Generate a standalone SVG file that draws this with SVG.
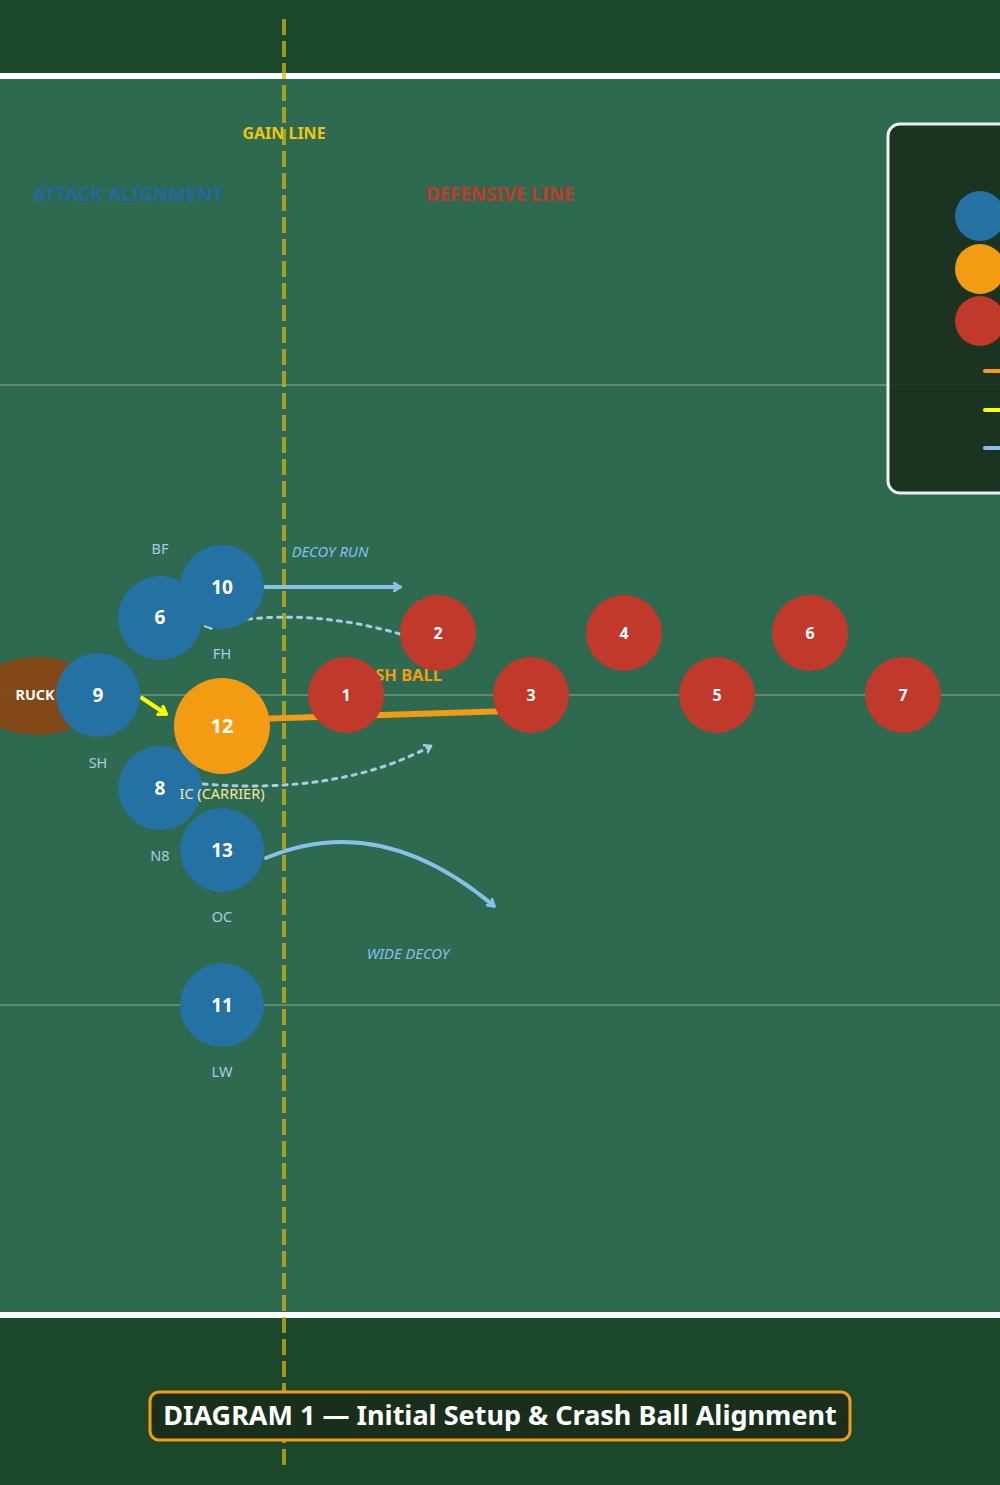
<svg xmlns="http://www.w3.org/2000/svg" width="1000" height="1485" viewBox="0 0 1000 1485">
<style>
text{font-family:"Noto Sans","Open Sans","DejaVu Sans",sans-serif}
.att{fill:#2471a3}
.def{fill:#c0392b}
.num{fill:#fff;font-weight:bold;text-anchor:middle}
.pos{fill:#a9cce3;font-size:14.5px;text-anchor:middle}
.yard{stroke:#fff;stroke-opacity:0.3;stroke-width:1.5}
.dot{fill:none;stroke:#a9cce3;stroke-width:3;stroke-dasharray:4 6;stroke-linecap:round}
.run{fill:none;stroke:#85c1e9;stroke-width:4;stroke-linecap:round}
.lbl{fill:#85c1e9;font-size:14.8px;font-style:italic;text-anchor:middle}
</style>
<defs>
<marker id="ab" markerWidth="10" markerHeight="10" refX="7" refY="5" orient="auto" markerUnits="userSpaceOnUse">
<path d="M1,1 L7,5 L1,9" fill="none" stroke="#85c1e9" stroke-width="3" stroke-linecap="round" stroke-linejoin="round"/>
</marker>
<marker id="ad" markerWidth="10" markerHeight="10" refX="7" refY="5" orient="auto" markerUnits="userSpaceOnUse">
<path d="M1,1 L7,5 L1,9" fill="none" stroke="#a9cce3" stroke-width="2.5" stroke-linecap="round" stroke-linejoin="round"/>
</marker>
<marker id="ay" markerWidth="12" markerHeight="12" refX="8" refY="6" orient="auto" markerUnits="userSpaceOnUse">
<path d="M1,1 L8,6 L1,11" fill="none" stroke="#ffff00" stroke-width="3.5" stroke-linecap="round" stroke-linejoin="round"/>
</marker>
<marker id="ao" markerWidth="12" markerHeight="12" refX="8" refY="6" orient="auto" markerUnits="userSpaceOnUse">
<path d="M1,1 L8,6 L1,11" fill="none" stroke="#f39c12" stroke-width="4"/>
</marker>
</defs>
<rect x="0" y="0" width="1000" height="1485" fill="#1b472b"/>
<rect x="0" y="76" width="1000" height="1239" fill="#2e6a4f"/>
<line x1="0" y1="76" x2="1000" y2="76" stroke="#fff" stroke-width="6"/>
<line x1="0" y1="1315" x2="1000" y2="1315" stroke="#fff" stroke-width="6"/>
<line class="yard" x1="0" y1="385" x2="1000" y2="385"/>
<line class="yard" x1="0" y1="695" x2="1000" y2="695"/>
<line class="yard" x1="0" y1="1005" x2="1000" y2="1005"/>
<text x="284" y="139" font-size="16" font-weight="bold" fill="#f1c40f" text-anchor="middle">GAIN LINE</text>
<line x1="284" y1="19" x2="284" y2="1470" stroke="#d4b80f" stroke-opacity="0.72" stroke-width="4" stroke-dasharray="16 6"/>
<text x="128" y="201" font-size="19" font-weight="bold" fill="#2269a0" text-anchor="middle">ATTACK ALIGNMENT</text>
<text x="500" y="201" font-size="18.7" font-weight="bold" fill="#c0392b" text-anchor="middle">DEFENSIVE LINE</text>
<g id="legend">
<rect x="888" y="124" width="140" height="369" rx="12" fill="#1a2e1c" fill-opacity="0.9" stroke="#ecf0f1" stroke-width="3"/>
<circle cx="980" cy="216" r="25" fill="#2471a3"/>
<circle cx="980" cy="269" r="25" fill="#f39c12"/>
<circle cx="980" cy="321" r="25" fill="#c0392b"/>
<line x1="985" y1="371" x2="1010" y2="371" stroke="#f39c12" stroke-width="4" stroke-linecap="round"/>
<line x1="985" y1="410" x2="1010" y2="410" stroke="#ffff00" stroke-width="4" stroke-linecap="round"/>
<line x1="985" y1="448" x2="1010" y2="448" stroke="#85c1e9" stroke-width="4" stroke-linecap="round"/>
</g>
<g id="ruck">
<ellipse cx="37" cy="696" rx="62" ry="39" fill="#8b4513" fill-opacity="0.92"/>
<text x="35" y="700" font-size="14.4" font-weight="bold" fill="#fff" text-anchor="middle">RUCK</text>
</g>
<text x="442" y="681" font-size="16.5" font-weight="bold" fill="#f39c12" text-anchor="end">CRASH BALL</text>
<g id="connectors">
<line x1="265" y1="587" x2="400" y2="587" class="run" marker-end="url(#ab)"/>
<text x="330" y="557" class="lbl">DECOY RUN</text>
<path d="M400 634 Q300 605 205 626" class="dot" marker-end="url(#ad)"/>
<path d="M203 784 Q340 795 431 746" class="dot" marker-end="url(#ad)"/>
<line x1="222" y1="720" x2="510" y2="711" stroke="#f39c12" stroke-width="6" marker-end="url(#ao)"/>
<line x1="142" y1="698" x2="166" y2="714" stroke="#ffff00" stroke-width="4" stroke-linecap="round" marker-end="url(#ay)"/>
<path d="M266 858 Q380 810 494 906" class="run" marker-end="url(#ab)"/>
<text x="408" y="959" class="lbl">WIDE DECOY</text>
</g>
<g id="p6"><circle class="att" cx="160" cy="618" r="42"/><text class="num" x="160" y="624" font-size="19">6</text><text class="pos" x="160" y="554">BF</text></g>
<g id="p10"><circle class="att" cx="222" cy="587" r="42"/><text class="num" x="222" y="594" font-size="19">10</text><text class="pos" x="222" y="659">FH</text></g>
<g id="p9"><circle class="att" cx="98" cy="695" r="42"/><text class="num" x="98" y="702" font-size="19">9</text><text class="pos" x="98" y="768">SH</text></g>
<g id="p8"><circle class="att" cx="160" cy="788" r="42"/><text class="num" x="160" y="795" font-size="19">8</text><text class="pos" x="160" y="861">N8</text></g>
<g id="p12"><circle cx="222" cy="726" r="48" fill="#f39c12"/><text class="num" x="222" y="733" font-size="20">12</text><text class="pos" x="222" y="799" style="fill:#f9e79f">IC (CARRIER)</text></g>
<g id="p13"><circle class="att" cx="222" cy="850" r="42"/><text class="num" x="222" y="857" font-size="19">13</text><text class="pos" x="222" y="922">OC</text></g>
<g id="p11"><circle class="att" cx="222" cy="1005" r="42"/><text class="num" x="222" y="1012" font-size="19">11</text><text class="pos" x="222" y="1077">LW</text></g>
<g id="d1"><circle class="def" cx="346" cy="695" r="38"/><text class="num" x="346" y="701" font-size="16">1</text></g>
<g id="d2"><circle class="def" cx="438" cy="633" r="38"/><text class="num" x="438" y="639" font-size="16">2</text></g>
<g id="d3"><circle class="def" cx="531" cy="695" r="38"/><text class="num" x="531" y="701" font-size="16">3</text></g>
<g id="d4"><circle class="def" cx="624" cy="633" r="38"/><text class="num" x="624" y="639" font-size="16">4</text></g>
<g id="d5"><circle class="def" cx="717" cy="695" r="38"/><text class="num" x="717" y="701" font-size="16">5</text></g>
<g id="d6"><circle class="def" cx="810" cy="633" r="38"/><text class="num" x="810" y="639" font-size="16">6</text></g>
<g id="d7"><circle class="def" cx="903" cy="695" r="38"/><text class="num" x="903" y="701" font-size="16">7</text></g>
<g id="title">
<rect x="150" y="1392" width="700" height="48" rx="9" fill="#1a2e1c" stroke="#f39c12" stroke-width="3"/>
<text x="500" y="1425" font-size="27" font-weight="bold" fill="#fff" text-anchor="middle">DIAGRAM 1 — Initial Setup &amp; Crash Ball Alignment</text>
</g>
</svg>
